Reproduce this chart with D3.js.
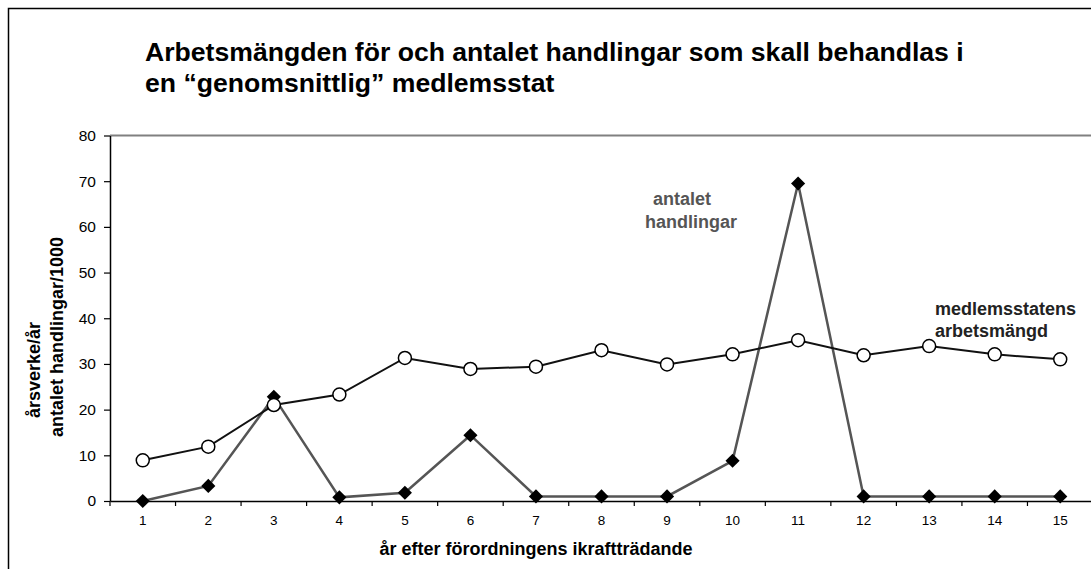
<!DOCTYPE html>
<html>
<head>
<meta charset="utf-8">
<script src="https://cdn.jsdelivr.net/npm/d3@7"></script>
<style>
  html, body { margin: 0; padding: 0; background: #fff; }
  svg { display: block; font-family: "Liberation Sans", Arial, sans-serif; }
</style>
</head>
<body>
<script>
// ---- data ----
const years = [1, 2, 3, 4, 5, 6, 7, 8, 9, 10, 11, 12, 13, 14, 15];
const workload = [8.9, 11.9, 21.0, 23.3, 31.3, 28.9, 29.4, 33.0, 29.9, 32.1, 35.2, 31.9, 33.9, 32.1, 31.0];
const documents = [0, 3.3, 22.8, 0.8, 1.8, 14.4, 1.0, 1.0, 1.0, 8.8, 69.5, 1.0, 1.0, 1.0, 1.0];
const yTicks = [0, 10, 20, 30, 40, 50, 60, 70, 80];
const titleLines = ["Arbetsmängden för och antalet handlingar som skall behandlas i", "en “genomsnittlig” medlemsstat"];
const xTitle = "år efter förordningens ikraftträdande";
const yTitleLines = ["årsverke/år", "antalet handlingar/1000"];
const docLabel = ["antalet", "handlingar"];
const workLabel = ["medlemsstatens", "arbetsmängd"];

(function () {
const W = 1091, H = 569;
const svg = d3.select("body").append("svg").attr("width", W).attr("height", H);

// outer frame
svg.append("rect").attr("x", 8.5).attr("y", 8.5).attr("width", 1100).attr("height", 600)
  .attr("fill", "#fff").attr("stroke", "#000").attr("stroke-width", 1.5);

const pL = 110, pR = 1093, pT = 135.5, pB = 501;
const x = d3.scaleBand().domain(years).range([pL, pR]).padding(0);
const xc = d => x(d) + x.bandwidth() / 2;
const y = d3.scaleLinear().domain([0, 80]).range([pB, pT]);

// title
svg.append("g").selectAll("text").data(titleLines).join("text")
  .attr("x", 145).attr("y", (d, i) => 61 + i * 31)
  .attr("font-size", 26.6).attr("font-weight", "bold").attr("fill", "#000")
  .text(d => d);

// plot top border
svg.append("line").attr("x1", pL).attr("x2", pR + 5).attr("y1", pT).attr("y2", pT)
  .attr("stroke", "#808080").attr("stroke-width", 2);

// y axis
const yAxis = svg.append("g").attr("transform", `translate(${pL},0)`)
  .call(d3.axisLeft(y).tickValues(yTicks).tickSize(6).tickPadding(8).tickSizeOuter(0));
yAxis.select(".domain").attr("stroke", "#000").attr("stroke-width", 1.5);
yAxis.selectAll(".tick line").attr("stroke", "#000").attr("stroke-width", 1.2);
yAxis.selectAll(".tick text").attr("font-size", 15.5).attr("fill", "#000")
  .attr("font-family", "Liberation Sans, Arial, sans-serif");

// x axis
const xAxis = svg.append("g").attr("transform", `translate(0,${pB})`)
  .call(d3.axisBottom(x).tickSize(0).tickPadding(14).tickSizeOuter(0));
xAxis.select(".domain").attr("stroke", "#000").attr("stroke-width", 1.5);
xAxis.selectAll(".tick text").attr("font-size", 13.5).attr("fill", "#000")
  .attr("font-family", "Liberation Sans, Arial, sans-serif");
// boundary ticks between categories
svg.append("g").selectAll("line").data(years).join("line")
  .attr("x1", d => x(d)).attr("x2", d => x(d))
  .attr("y1", pB).attr("y2", pB + 5)
  .attr("stroke", "#000").attr("stroke-width", 1.2);

// x title
svg.append("text").attr("x", 536).attr("y", 555).attr("text-anchor", "middle")
  .attr("font-size", 18).attr("font-weight", "bold").attr("fill", "#000").text(xTitle);

// y title (two rotated lines)
const yT = [{x: 40, y: 418}, {x: 63, y: 437}];
svg.append("g").selectAll("text").data(yTitleLines).join("text")
  .attr("transform", (d, i) => `translate(${yT[i].x},${yT[i].y}) rotate(-90)`)
  .attr("font-size", 18).attr("font-weight", "bold").attr("fill", "#000")
  .text(d => d);

// documents line (grey)
const line = d3.line().x((d, i) => xc(years[i])).y(d => y(d));
svg.append("path").datum(documents).attr("d", line)
  .attr("fill", "none").attr("stroke", "#555").attr("stroke-width", 2.5).attr("stroke-linejoin", "miter");
// diamonds
const diamond = d3.symbol().type(d3.symbolSquare).size(100);
svg.append("g").selectAll("path").data(documents).join("path")
  .attr("d", diamond)
  .attr("transform", (d, i) => `translate(${xc(years[i])},${y(d)}) rotate(45)`)
  .attr("fill", "#000");

// workload line (black)
svg.append("path").datum(workload).attr("d", line)
  .attr("fill", "none").attr("stroke", "#111").attr("stroke-width", 2);
svg.append("g").selectAll("circle").data(workload).join("circle")
  .attr("cx", (d, i) => xc(years[i])).attr("cy", d => y(d)).attr("r", 6.5)
  .attr("fill", "#fff").attr("stroke", "#000").attr("stroke-width", 1.5);

// series labels
svg.append("g").selectAll("text").data(docLabel).join("text")
  .attr("x", (d, i) => i === 0 ? 653 : 645).attr("y", (d, i) => 205 + i * 23)
  .attr("font-size", 18).attr("font-weight", "bold").attr("fill", "#555").text(d => d);
svg.append("g").selectAll("text").data(workLabel).join("text")
  .attr("x", 935).attr("y", (d, i) => 315 + i * 22)
  .attr("font-size", 18).attr("font-weight", "bold").attr("fill", "#222").text(d => d);
})();
</script>
</body>
</html>
